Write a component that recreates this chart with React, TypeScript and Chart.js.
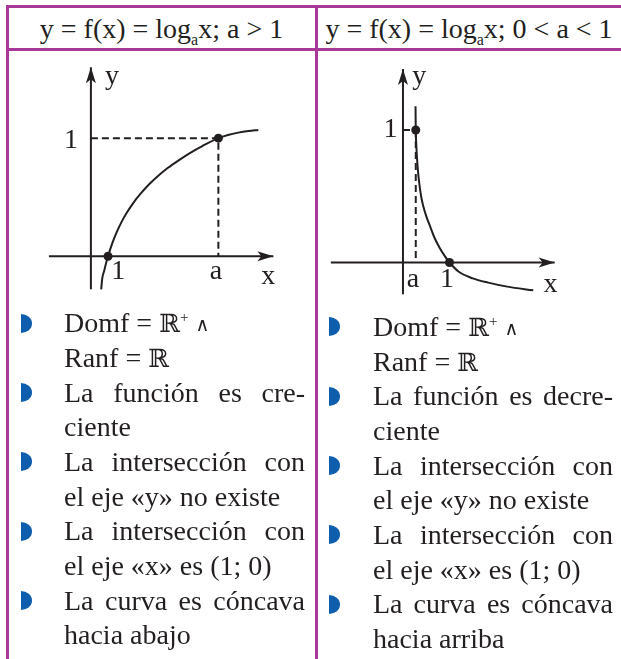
import React, { useEffect, useRef } from "react";
import { Chart, registerables } from "chart.js";

Chart.register(...registerables);

const MAGENTA = "#a8399a";
const BLUE = "#0f5eae";
const INK = "#231f20";
const FONT = '"Liberation Serif", "Times New Roman", "DejaVu Serif", serif';

// ---------- Left panel: a > 1 ----------
const leftCurveX = [0.6, 0.66, 0.78, 0.9, 1.0, 1.25, 1.5, 1.8, 2.1, 2.5, 2.9, 3.4, 3.9, 4.5, 5.1, 5.8, 6.5, 7.44, 8.0, 8.6, 9.2, 9.77];
const leftCurveY = [-0.28, -0.19, -0.12, -0.05, 0, 0.111, 0.202, 0.293, 0.37, 0.457, 0.53, 0.61, 0.678, 0.749, 0.81, 0.876, 0.933, 1.0, 1.027, 1.047, 1.061, 1.07];
const leftA = 7.44;
const leftPointX = [1, leftA];
const leftPointY = [0, 1];
const leftXAxisRange = [-2.45, 10.65];
const leftYAxisRange = [-0.28, 1.6];
const leftLabelText = ["y", "1", "1", "a", "x"];
const leftLabelX = [0.83, -0.75, 1.59, 7.3, 10.35];
const leftLabelY = [1.455, 0.916, -0.196, -0.196, -0.237];
const leftLabelAlign = ["left", "right", "center", "center", "center"];

// ---------- Right panel: 0 < a < 1 ----------
const rightCurveX = [0.27, 0.275, 0.285, 0.3, 0.32, 0.35, 0.39, 0.44, 0.5, 0.586, 0.68, 0.79, 0.9, 1.0, 1.2, 1.5, 1.83, 2.24, 2.8];
const rightCurveY = [1.18, 1.0, 0.9, 0.8, 0.7, 0.6, 0.5, 0.42, 0.35, 0.27, 0.185, 0.11, 0.048, 0, -0.07, -0.12, -0.152, -0.182, -0.21];
const rightA = 0.275;
const rightPointX = [rightA, 1];
const rightPointY = [1, 0];
const rightXAxisRange = [-1.55, 3.26];
const rightYAxisRange = [-0.24, 1.46];
const rightTickX = [0, 0.15];
const rightLabelText = ["y", "1", "a", "1", "x"];
const rightLabelX = [0.2, -0.118, 0.213, 0.948, 3.17];
const rightLabelY = [1.347, 0.949, -0.182, -0.182, -0.219];
const rightLabelAlign = ["left", "right", "center", "center", "center"];

// ---------- Text ----------
const headerLeft = ["y = f(x) = log", "a", "x; a > 1"];
const headerRight = ["y = f(x) = log", "a", "x; 0 < a < 1"];
const leftLines = [
  "Domf = ℝ⁺ ∧",
  "Ranf = ℝ",
  "La función es cre-",
  "ciente",
  "La intersección con",
  "el eje «y» no existe",
  "La intersección con",
  "el eje «x» es (1; 0)",
  "La curva es cóncava",
  "hacia abajo",
];
const leftJustified = [false, false, true, false, true, false, true, false, true, false];
const rightLines = [
  "Domf = ℝ⁺ ∧",
  "Ranf = ℝ",
  "La función es decre-",
  "ciente",
  "La intersección con",
  "el eje «y» no existe",
  "La intersección con",
  "el eje «x» es (1; 0)",
  "La curva es cóncava",
  "hacia arriba",
];
const rightJustified = [false, false, true, false, true, false, true, false, true, false];
const bulletLineIndex = [0, 2, 4, 6, 8];

type PanelSpec = {
  curveX: number[];
  curveY: number[];
  pointX: number[];
  pointY: number[];
  dashed: { x: number; y: number }[];
  extra: { x: number; y: number }[] | null;
  xAxis: number[];
  yAxis: number[];
  labelText: string[];
  labelX: number[];
  labelY: number[];
  labelAlign: string[];
  xmin: number;
  xmax: number;
  ymin: number;
  ymax: number;
};

function drawArrow(ctx: CanvasRenderingContext2D, tx: number, ty: number, dir: "up" | "right") {
  const L = 16;
  const W = 5;
  const N = 12;
  ctx.beginPath();
  if (dir === "up") {
    ctx.moveTo(tx, ty);
    ctx.lineTo(tx - W, ty + L);
    ctx.lineTo(tx, ty + N);
    ctx.lineTo(tx + W, ty + L);
  } else {
    ctx.moveTo(tx, ty);
    ctx.lineTo(tx - L, ty - W);
    ctx.lineTo(tx - N, ty);
    ctx.lineTo(tx - L, ty + W);
  }
  ctx.closePath();
  ctx.fill();
}

function Panel({ spec, left, top, width, height }: { spec: PanelSpec; left: number; top: number; width: number; height: number }) {
  const ref = useRef<HTMLCanvasElement | null>(null);
  useEffect(() => {
    if (!ref.current) return;
    const s = spec;
    const pts = (xs: number[], ys: number[]) => xs.map((x, i) => ({ x, y: ys[i] }));
    const datasets: any[] = [
      {
        data: pts(s.pointX, s.pointY),
        showLine: false,
        pointRadius: 4.5,
        pointBackgroundColor: INK,
        pointBorderWidth: 0,
        clip: false,
      },
      {
        data: pts(s.curveX, s.curveY),
        showLine: true,
        borderColor: INK,
        borderWidth: 2,
        pointRadius: 0,
        cubicInterpolationMode: "monotone",
        clip: false,
      },
      {
        data: s.dashed,
        showLine: true,
        borderColor: INK,
        borderWidth: 2,
        borderDash: [7, 4],
        pointRadius: 0,
        clip: false,
      },
      {
        data: [
          { x: s.xAxis[0], y: 0 },
          { x: s.xAxis[1], y: 0 },
        ],
        showLine: true,
        borderColor: INK,
        borderWidth: 2,
        pointRadius: 0,
        clip: false,
      },
      {
        data: [
          { x: 0, y: s.yAxis[0] },
          { x: 0, y: s.yAxis[1] },
        ],
        showLine: true,
        borderColor: INK,
        borderWidth: 2,
        pointRadius: 0,
        clip: false,
      },
    ];
    if (s.extra) {
      datasets.push({
        data: s.extra,
        showLine: true,
        borderColor: INK,
        borderWidth: 2,
        pointRadius: 0,
        clip: false,
      });
    }
    const annot = {
      id: "annot",
      afterDatasetsDraw(chart: any) {
        const { ctx } = chart;
        const xs = chart.scales.x;
        const ys = chart.scales.y;
        ctx.save();
        ctx.fillStyle = INK;
        drawArrow(ctx, xs.getPixelForValue(s.xAxis[1]), ys.getPixelForValue(0), "right");
        drawArrow(ctx, xs.getPixelForValue(0), ys.getPixelForValue(s.yAxis[1]), "up");
        ctx.font = `28px ${FONT}`;
        ctx.textBaseline = "alphabetic";
        s.labelText.forEach((t, i) => {
          ctx.textAlign = s.labelAlign[i];
          ctx.fillText(t, xs.getPixelForValue(s.labelX[i]), ys.getPixelForValue(s.labelY[i]));
        });
        ctx.restore();
      },
    };
    const chart = new Chart(ref.current, {
      type: "scatter",
      data: { datasets },
      options: {
        animation: false,
        responsive: false,
        events: [],
        layout: { padding: 0 },
        plugins: { legend: { display: false }, tooltip: { enabled: false } },
        scales: {
          x: { type: "linear", min: s.xmin, max: s.xmax, display: false },
          y: { type: "linear", min: s.ymin, max: s.ymax, display: false },
        },
      },
      plugins: [annot],
    } as any);
    return () => chart.destroy();
  }, [spec]);
  return (
    <canvas
      ref={ref}
      width={width}
      height={height}
      style={{ position: "absolute", left, top, width, height }}
    />
  );
}

const leftSpec: PanelSpec = {
  curveX: leftCurveX,
  curveY: leftCurveY,
  pointX: leftPointX,
  pointY: leftPointY,
  dashed: [
    { x: 0, y: 1 },
    { x: leftA, y: 1 },
    { x: leftA, y: 0 },
  ],
  extra: null,
  xAxis: leftXAxisRange,
  yAxis: leftYAxisRange,
  labelText: leftLabelText,
  labelX: leftLabelX,
  labelY: leftLabelY,
  labelAlign: leftLabelAlign,
  xmin: -3,
  xmax: 12,
  ymin: -0.4,
  ymax: 1.7,
};

const rightSpec: PanelSpec = {
  curveX: rightCurveX,
  curveY: rightCurveY,
  pointX: rightPointX,
  pointY: rightPointY,
  dashed: [
    { x: rightA, y: 1 },
    { x: rightA, y: 0 },
  ],
  extra: [
    { x: rightTickX[0], y: 1 },
    { x: rightTickX[1], y: 1 },
  ],
  xAxis: rightXAxisRange,
  yAxis: rightYAxisRange,
  labelText: rightLabelText,
  labelX: rightLabelX,
  labelY: rightLabelY,
  labelAlign: rightLabelAlign,
  xmin: -1.6,
  xmax: 3.6,
  ymin: -0.4,
  ymax: 1.6,
};

function renderLine(t: string) {
  const out: React.ReactNode[] = [];
  let buf = "";
  let k = 0;
  for (const ch of Array.from(t)) {
    if (ch === "⁺" || ch === "∧" || ch === "ℝ") {
      if (buf) out.push(buf);
      buf = "";
      if (ch === "⁺")
        out.push(
          <span key={k++} style={{ fontSize: 15, position: "relative", top: -10 }}>+</span>
        );
      else if (ch === "∧")
        out.push(
          <span key={k++} style={{ fontSize: 19, fontFamily: '"DejaVu Serif", serif', position: "relative", top: -1 }}>∧</span>
        );
      else
        out.push(
          <span key={k++} style={{ fontSize: 25, fontFamily: '"DejaVu Serif", serif' }}>ℝ</span>
        );
    } else buf += ch;
  }
  if (buf) out.push(buf);
  return out;
}

const LH = 34.67;

function TextColumn({ lines, just, left, top, width, bulletLeft }: { lines: string[]; just: boolean[]; left: number; top: number; width: number; bulletLeft: number }) {
  return (
    <>
      {lines.map((t, i) => (
        <div
          key={i}
          style={{
            position: "absolute",
            left,
            top: top + i * LH,
            width,
            height: LH,
            lineHeight: `${LH}px`,
            fontSize: 28,
            textAlign: just[i] ? "justify" : "left",
            textAlignLast: just[i] ? "justify" : "left",
            whiteSpace: just[i] ? "normal" : "nowrap",
          } as any}
        >
          {renderLine(t)}
        </div>
      ))}
      {bulletLineIndex.map((li) => (
        <div
          key={"b" + li}
          style={{
            position: "absolute",
            left: bulletLeft,
            top: top + li * LH + 26.8 - 10 - 9.5,
            width: 11,
            height: 19,
            background: BLUE,
            borderRadius: "0 11px 11px 0 / 0 9.5px 9.5px 0",
          }}
        />
      ))}
    </>
  );
}

function Header({ parts, left, width }: { parts: string[]; left: number; width: number }) {
  return (
    <div
      style={{
        position: "absolute",
        left,
        top: 14.6,
        width,
        textAlign: "center",
        fontSize: 28,
        lineHeight: "28px",
        whiteSpace: "nowrap",
      }}
    >
      {parts[0]}
      <span style={{ fontSize: 16, position: "relative", top: 7 }}>{parts[1]}</span>
      {parts[2]}
    </div>
  );
}

export default function App() {
  const line = (l: number, t: number, w: number, h: number) => (
    <div style={{ position: "absolute", left: l, top: t, width: w, height: h, background: MAGENTA }} />
  );
  return (
    <div
      style={{
        position: "absolute",
        left: 0,
        top: 0,
        width: 621,
        height: 659,
        background: "#ffffff",
        overflow: "hidden",
        fontFamily: FONT,
        color: INK,
      }}
    >
      {line(6, 5, 615, 2.5)}
      {line(6, 48, 615, 2.5)}
      {line(6, 5, 2.5, 654)}
      {line(315, 5, 2.5, 654)}
      <Header parts={headerLeft} left={8} width={307} />
      <Header parts={headerRight} left={317} width={304} />
      <Panel spec={leftSpec} left={35} top={51} width={266} height={257} />
      <Panel spec={rightSpec} left={324} top={46} width={251} height={274} />
      <TextColumn lines={leftLines} just={leftJustified} left={64} top={306.2} width={241} bulletLeft={21} />
      <TextColumn lines={rightLines} just={rightJustified} left={373} top={309.9} width={240} bulletLeft={329} />
    </div>
  );
}
